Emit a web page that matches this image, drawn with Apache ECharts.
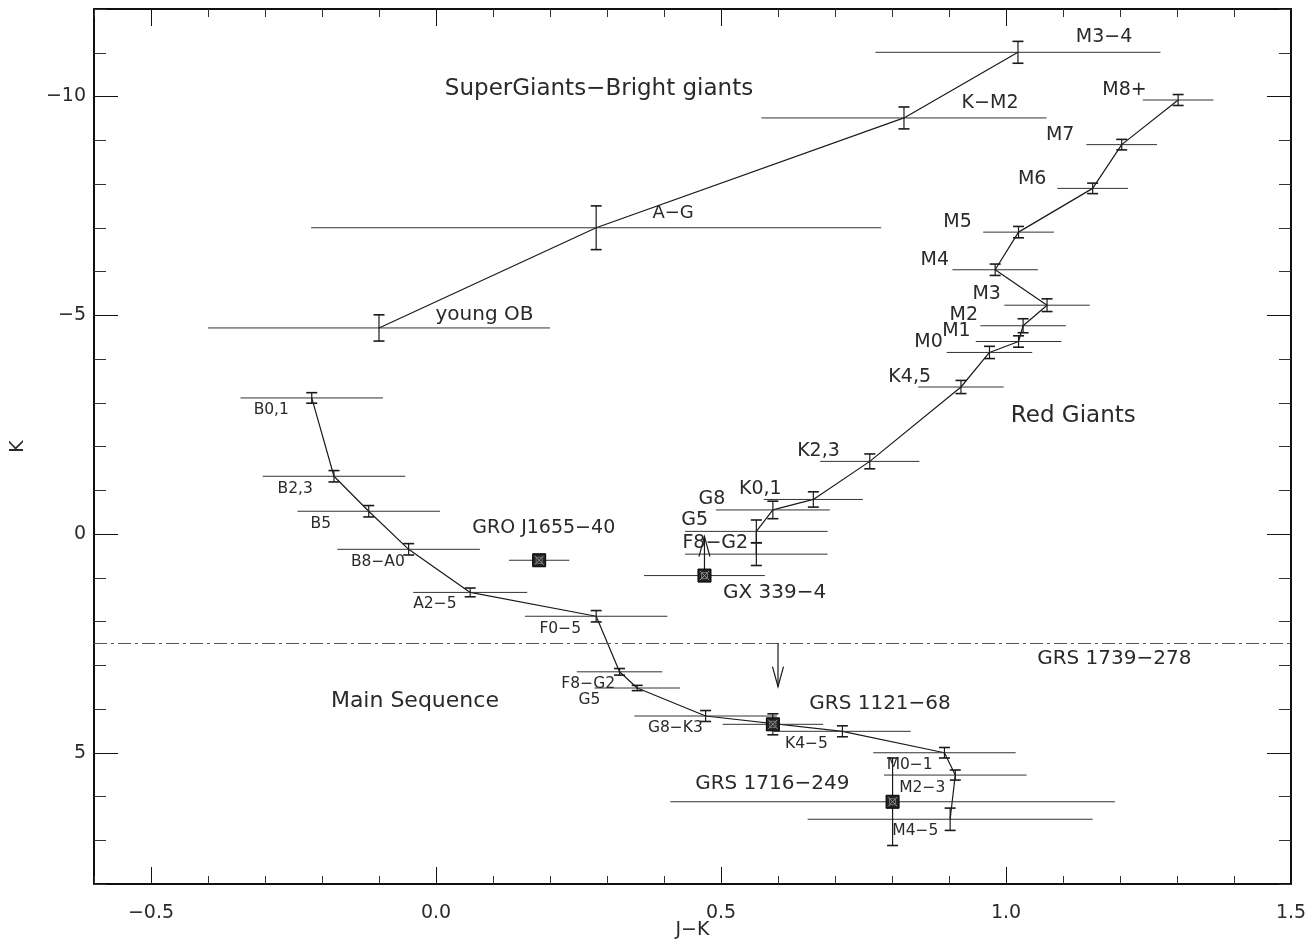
<!DOCTYPE html>
<html><head><meta charset="utf-8">
<script src="https://cdn.jsdelivr.net/npm/echarts@6/dist/echarts.min.js"></script>
<style>html,body{margin:0;padding:0;background:#fff}#c{width:1313px;height:943px}</style>
</head><body><div id="c"></div>
<script>
// ---- Supergiants / bright giants sequence ----
const superNames = ['young OB', 'A−G', 'K−M2', 'M3−4'];
const superX     = [-0.10, 0.281, 0.821, 1.021];
const superK     = [-4.71, -7.00, -9.51, -11.01];
const superXErr  = [0.30, 0.50, 0.25, 0.25];
const superKErr  = [0.30, 0.50, 0.25, 0.25];

// ---- Red giants sequence ----
const giantNames = ['F8−G2', 'G5', 'G8', 'K0,1', 'K2,3', 'K4,5', 'M0', 'M1', 'M2', 'M3', 'M4', 'M5', 'M6', 'M7', 'M8+'];
const giantX     = [0.562, 0.562, 0.591, 0.662, 0.761, 0.921, 0.971, 1.022, 1.030, 1.072, 0.981, 1.022, 1.152, 1.203, 1.302];
const giantK     = [0.46, -0.06, -0.55, -0.79, -1.66, -3.36, -4.15, -4.40, -4.76, -5.23, -6.04, -6.90, -7.90, -8.90, -9.92];
const giantXErr  = [0.125, 0.125, 0.10, 0.087, 0.087, 0.075, 0.075, 0.075, 0.075, 0.075, 0.075, 0.062, 0.062, 0.062, 0.062];
const giantKErr  = [0.26, 0.26, 0.20, 0.175, 0.17, 0.15, 0.14, 0.13, 0.16, 0.145, 0.13, 0.13, 0.12, 0.12, 0.125];

// ---- Main sequence ----
const msNames = ['B0,1', 'B2,3', 'B5', 'B8−A0', 'A2−5', 'F0−5', 'F8−G2', 'G5', 'G8−K3', 'K4−5', 'M0−1', 'M2−3', 'M4−5'];
const msX     = [-0.218, -0.179, -0.118, -0.048, 0.060, 0.281, 0.322, 0.353, 0.473, 0.713, 0.892, 0.911, 0.902];
const msK     = [-3.11, -1.32, -0.52, 0.35, 1.335, 1.88, 3.15, 3.52, 4.16, 4.51, 5.00, 5.51, 6.52];
const msXErr  = [0.125, 0.125, 0.125, 0.125, 0.10, 0.125, 0.075, 0.075, 0.125, 0.12, 0.125, 0.125, 0.25];
const msKErr  = [0.12, 0.13, 0.13, 0.13, 0.10, 0.13, 0.075, 0.06, 0.125, 0.125, 0.12, 0.115, 0.255];

// ---- X-ray binaries (counterparts) ----
const xrbNames = ['GRO J1655−40', 'GX 339−4', 'GRS 1121−68', 'GRS 1716−249'];
const xrbX     = [0.181, 0.471, 0.591, 0.801];
const xrbK     = [0.60, 0.95, 4.35, 6.12];
const xrbXErr  = [0.053, 0.106, 0.088, 0.39];
const xrbKErr  = [0, 0, 0.24, 1.0];

// ---- limits (arrows) ----
const arrowX      = [0.471, 0.600];
const arrowFromK  = [0.95, 2.5];
const arrowToK    = [0.06, 3.49];
const limitK = 2.5; // GRS 1739-278 dash-dot limit

// ---- axes ----
const xMin = -0.6, xMax = 1.5, yMin = -12, yMax = 8;
const xMajorTicks = [-0.5, 0.0, 0.5, 1.0, 1.5];
const yMajorTicks = [-10, -5, 0, 5];

// ---- text annotations: [text, x, K, fontSize] ----
const annotations = [
  ['SuperGiants−Bright giants', 0.286, -10.16, 23],
  ['A−G', 0.416, -7.32, 18],
  ['young OB', 0.085, -5.01, 20],
  ['M3−4', 1.172, -11.35, 19],
  ['M8+', 1.208, -10.15, 19],
  ['K−M2', 0.972, -9.84, 19],
  ['M7', 1.095, -9.13, 19],
  ['M6', 1.046, -8.12, 19],
  ['M5', 0.915, -7.14, 19],
  ['M4', 0.875, -6.27, 19],
  ['M3', 0.966, -5.48, 19],
  ['M2', 0.926, -5.01, 19],
  ['M1', 0.913, -4.65, 19],
  ['M0', 0.864, -4.38, 19],
  ['K4,5', 0.831, -3.59, 19],
  ['Red Giants', 1.118, -2.70, 23],
  ['K2,3', 0.671, -1.89, 19],
  ['K0,1', 0.569, -1.02, 19],
  ['G8', 0.484, -0.80, 19],
  ['G5', 0.454, -0.32, 19],
  ['F8−G2', 0.490, 0.21, 19],
  ['GX 339−4', 0.594, 1.35, 20],
  ['B0,1', -0.289, -2.83, 15.5],
  ['B2,3', -0.247, -1.03, 15.5],
  ['B5', -0.202, -0.24, 15.5],
  ['B8−A0', -0.102, 0.63, 15.5],
  ['A2−5', -0.002, 1.61, 15.5],
  ['F0−5', 0.218, 2.17, 15.5],
  ['GRO J1655−40', 0.189, -0.14, 19],
  ['Main Sequence', -0.037, 3.82, 22],
  ['F8−G2', 0.267, 3.43, 15.5],
  ['G5', 0.269, 3.80, 15.5],
  ['G8−K3', 0.420, 4.44, 15.5],
  ['GRS 1739−278', 1.190, 2.86, 20],
  ['GRS 1121−68', 0.779, 3.87, 20],
  ['K4−5', 0.650, 4.79, 15.5],
  ['GRS 1716−249', 0.590, 5.72, 20],
  ['M0−1', 0.831, 5.29, 15.5],
  ['M2−3', 0.853, 5.81, 15.5],
  ['M4−5', 0.841, 6.78, 15.5]
];

const FONT = '"DejaVu Sans", "Liberation Sans", sans-serif';
const INK = '#1a1a1a';
const TXT = '#2a2a2a';
const zip4 = (a, b, c, d) => a.map((v, i) => [v, b[i], c[i], d[i]]);
const minusFmt = (v, digits) => {
  const s = digits === undefined ? String(v) : Number(v).toFixed(digits);
  return s.replace('-', '−');
};

function errRender(params, api) {
  const x = api.value(0), y = api.value(1), xe = api.value(2), ye = api.value(3);
  const c = api.coord([x, y]);
  const ch = [];
  if (xe > 0) {
    const l = api.coord([x - xe, y]), r = api.coord([x + xe, y]);
    ch.push({ type: 'line', shape: { x1: l[0], y1: c[1], x2: r[0], y2: c[1] }, style: { stroke: '#333', lineWidth: 1 } });
  }
  if (ye > 0) {
    const t = api.coord([x, y - ye]), b = api.coord([x, y + ye]);
    const w = 5.5;
    ch.push({ type: 'line', shape: { x1: c[0], y1: t[1], x2: c[0], y2: b[1] }, style: { stroke: INK, lineWidth: 1.2 } });
    ch.push({ type: 'line', shape: { x1: c[0] - w, y1: t[1], x2: c[0] + w, y2: t[1] }, style: { stroke: INK, lineWidth: 1.6 } });
    ch.push({ type: 'line', shape: { x1: c[0] - w, y1: b[1], x2: c[0] + w, y2: b[1] }, style: { stroke: INK, lineWidth: 1.6 } });
  }
  return { type: 'group', children: ch };
}

function markerRender(params, api) {
  const c = api.coord([api.value(0), api.value(1)]);
  const h = 6.5;
  return {
    type: 'group', children: [
      { type: 'rect', shape: { x: c[0] - h, y: c[1] - h, width: 2 * h, height: 2 * h }, style: { fill: '#222', stroke: '#000', lineWidth: 1 } },
      { type: 'line', shape: { x1: c[0] - h + 2, y1: c[1] - h + 2, x2: c[0] + h - 2, y2: c[1] + h - 2 }, style: { stroke: '#9a9a9a', lineWidth: 1 } },
      { type: 'line', shape: { x1: c[0] - h + 2, y1: c[1] + h - 2, x2: c[0] + h - 2, y2: c[1] - h + 2 }, style: { stroke: '#9a9a9a', lineWidth: 1 } },
      { type: 'rect', shape: { x: c[0] - 3, y: c[1] - 3, width: 6, height: 6 }, style: { fill: 'none', stroke: '#777', lineWidth: 1 } }
    ]
  };
}

function arrowRender(params, api) {
  const x = api.value(0);
  const a = api.coord([x, api.value(1)]), b = api.coord([x, api.value(2)]);
  const dir = b[1] < a[1] ? 1 : -1;
  const hl = 20, hw = 5.5;
  return {
    type: 'group', children: [
      { type: 'line', shape: { x1: a[0], y1: a[1], x2: b[0], y2: b[1] }, style: { stroke: INK, lineWidth: 1.2 } },
      { type: 'polyline', shape: { points: [[b[0] - hw, b[1] + dir * hl], [b[0], b[1]], [b[0] + hw, b[1] + dir * hl]] }, style: { stroke: INK, lineWidth: 1.2, fill: 'none' } }
    ]
  };
}

function textRender(params, api) {
  const a = annotations[params.dataIndex];
  const c = api.coord([a[1], a[2]]);
  return {
    type: 'text', x: c[0], y: c[1],
    style: { text: a[0], fill: TXT, font: a[3] + 'px ' + FONT, align: 'center', verticalAlign: 'middle' }
  };
}

const axisLineStyle = { color: '#000', width: 1.5 };
function xAx(pos, major, withLabels) {
  const ax = {
    type: 'value', position: pos, min: xMin, max: xMax, interval: 0.1,
    axisLine: { show: true, onZero: false, lineStyle: axisLineStyle },
    axisTick: { show: true, inside: true, length: major ? 17 : 8, lineStyle: { color: major ? '#111' : '#333', width: 1 } },
    axisLabel: { show: false },
    splitLine: { show: false }
  };
  if (major) {
    ax.axisTick.customValues = xMajorTicks;
    ax.axisLabel = withLabels ? {
      show: true, customValues: xMajorTicks, margin: 20,
      formatter: v => minusFmt(v, 1), color: TXT, fontSize: 19, fontFamily: FONT
    } : { show: false };
  }
  return ax;
}
function yAx(pos, major, withLabels) {
  const ax = {
    type: 'value', position: pos, min: yMin, max: yMax, interval: 1, inverse: true,
    axisLine: { show: true, onZero: false, lineStyle: axisLineStyle },
    axisTick: { show: true, inside: true, length: major ? 24 : 12, lineStyle: { color: major ? '#111' : '#333', width: 1 } },
    axisLabel: { show: false },
    splitLine: { show: false }
  };
  if (major) {
    ax.axisTick.customValues = yMajorTicks;
    ax.axisLabel = withLabels ? {
      show: true, customValues: yMajorTicks, margin: 8,
      formatter: v => minusFmt(v), color: TXT, fontSize: 19, fontFamily: FONT
    } : { show: false };
  }
  return ax;
}

const xAxes = [xAx('bottom', false), xAx('bottom', true, true), xAx('top', false), xAx('top', true, false)];
xAxes[1].name = 'J−K';
xAxes[1].nameLocation = 'middle';
xAxes[1].nameGap = 37;
xAxes[1].nameMoveOverlap = false;
xAxes[1].nameTextStyle = { color: TXT, fontSize: 19, fontFamily: FONT };
const yAxes = [yAx('left', false), yAx('left', true, true), yAx('right', false), yAx('right', true, false)];
yAxes[1].name = 'K';
yAxes[1].nameLocation = 'middle';
yAxes[1].nameGap = 66;
yAxes[1].nameMoveOverlap = false;
yAxes[1].nameTextStyle = { color: TXT, fontSize: 19, fontFamily: FONT };

const lineStyle = { color: INK, width: 1.2 };
const option = {
  animation: false,
  backgroundColor: '#fff',
  grid: { left: 94, right: 22, top: 9, bottom: 59, containLabel: false, outerBoundsMode: 'none' },
  xAxis: xAxes,
  yAxis: yAxes,
  series: [
    { type: 'line', name: 'Supergiants', data: superX.map((x, i) => [x, superK[i]]), showSymbol: false, symbol: 'none', lineStyle, z: 3 },
    { type: 'line', name: 'Red giants', data: giantX.map((x, i) => [x, giantK[i]]), showSymbol: false, symbol: 'none', lineStyle, z: 3 },
    {
      type: 'line', name: 'Main sequence', data: msX.map((x, i) => [x, msK[i]]), showSymbol: false, symbol: 'none', lineStyle, z: 3,
      markLine: {
        silent: true, symbol: ['none', 'none'], label: { show: false },
        lineStyle: { color: '#555', width: 1.2, type: [13, 4, 3, 4] },
        data: [{ yAxis: limitK }]
      }
    },
    { type: 'custom', name: 'Supergiant errors', renderItem: errRender, data: zip4(superX, superK, superXErr, superKErr), encode: { x: 0, y: 1 }, z: 4 },
    { type: 'custom', name: 'Giant errors', renderItem: errRender, data: zip4(giantX, giantK, giantXErr, giantKErr), encode: { x: 0, y: 1 }, z: 4 },
    { type: 'custom', name: 'MS errors', renderItem: errRender, data: zip4(msX, msK, msXErr, msKErr), encode: { x: 0, y: 1 }, z: 4 },
    { type: 'custom', name: 'XRB errors', renderItem: errRender, data: zip4(xrbX, xrbK, xrbXErr, xrbKErr), encode: { x: 0, y: 1 }, z: 4 },
    { type: 'custom', name: 'Limits', renderItem: arrowRender, data: arrowX.map((x, i) => [x, arrowFromK[i], arrowToK[i]]), encode: { x: 0, y: [1, 2] }, z: 5 },
    { type: 'custom', name: 'XRB', renderItem: markerRender, data: xrbX.map((x, i) => [x, xrbK[i]]), encode: { x: 0, y: 1 }, z: 6 },
    { type: 'custom', name: 'Labels', renderItem: textRender, data: annotations.map(a => [a[1], a[2]]), encode: { x: 0, y: 1 }, z: 7, silent: true }
  ]
};
const chart = echarts.init(document.getElementById('c'), null, { renderer: 'canvas' });
chart.setOption(option);
</script></body></html>
